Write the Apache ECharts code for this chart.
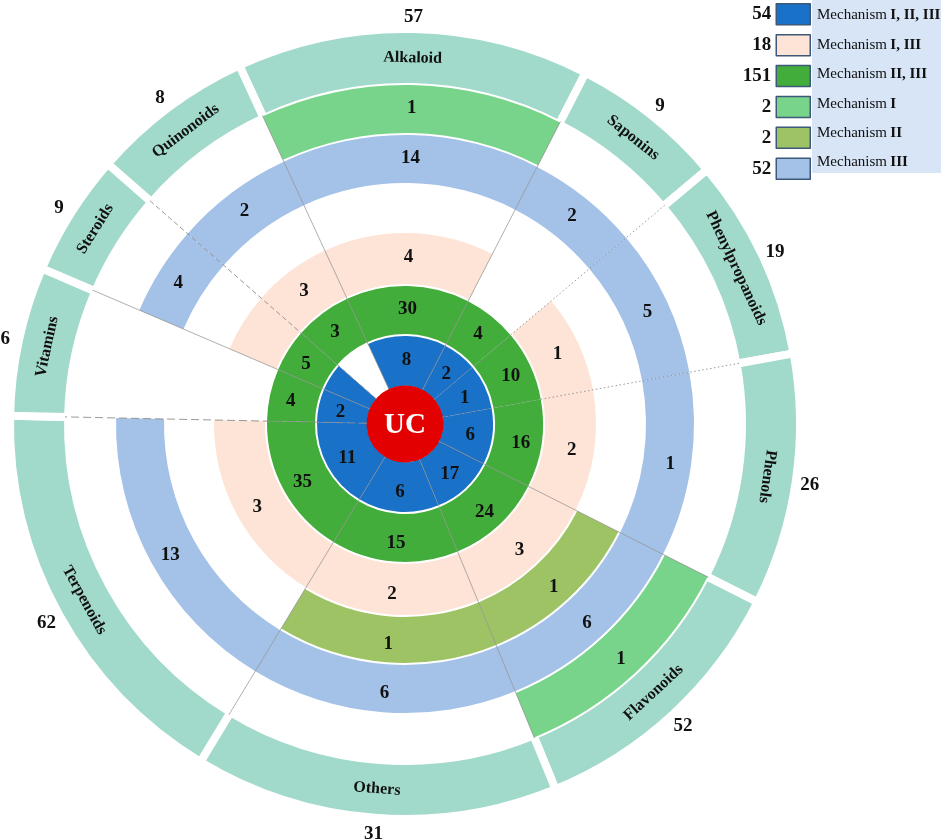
<!DOCTYPE html>
<html><head><meta charset="utf-8">
<script src="https://cdn.jsdelivr.net/npm/echarts@6/dist/echarts.min.js"></script>
<style>html,body{margin:0;padding:0;background:#fff}#chart{width:941px;height:840px}</style>
</head><body><div id="chart"></div>
<script>
// ---------- data ----------
const categories = ['Alkaloid','Saponins','Phenylpropanoids','Phenols','Flavonoids','Others','Terpenoids','Vitamins','Steroids','Quinonoids'];
const categoryTotals = [57, 9, 19, 26, 52, 31, 62, 6, 9, 8];
// angular share of each category sector (degrees, as drawn in the picture)
const categorySpan = [52, 22.7, 29.8, 37.1, 40.8, 53.6, 60, 22, 18, 24];
const firstBoundary = -24.8; // Alkaloid sector starts here (degrees clockwise from 12 o'clock)

const mechNames = ['Mechanism I, II, III','Mechanism I, III','Mechanism II, III','Mechanism I','Mechanism II','Mechanism III'];
const mechTotals = [54, 18, 151, 2, 2, 52];

const mechI_II_III = [8, 2, 1, 6, 17, 6, 11, 2, null, null];
const mechII_III   = [30, 4, 10, 16, 24, 15, 35, 4, 5, 3];
const mechI_III    = [4, null, 1, 2, 3, 2, 3, null, null, 3];
const mechII       = [null, null, null, null, 1, 1, null, null, null, null];
const mechIII      = [14, 2, 5, 1, 6, 6, 13, null, 4, 2];
const mechI        = [1, null, null, null, 1, null, null, null, null, null];
// cells coloured in the picture without a number
const unlabeledFill = {'Mechanism I, II, III': ['Steroids'], 'Mechanism I, III': ['Steroids']};
// style of the radial divider that follows each category
const dividerStyle = ['solid','dotted','dotted','solid','solid','solid','dashed','solid','longdash','solid'];

// ---------- layout / style ----------
const C = [405, 424];
const SERIF = '"Liberation Serif","Times New Roman",serif';
const startAngle = 90 - firstBoundary;
const LABEL_OFFSET = [0, 2];
const ringColor = {
  'Mechanism I, II, III': '#1a71c8',
  'Mechanism I, III': '#fde4d6',
  'Mechanism II, III': '#43ad3b',
  'Mechanism I': '#77d48a',
  'Mechanism II': '#9dc365',
  'Mechanism III': '#a4c1e8'
};
const rings = [
  {name: 'Mechanism I, II, III', values: mechI_II_III, r: [38, 88]},
  {name: 'Mechanism II, III', values: mechII_III, r: [90, 138]},
  {name: 'Mechanism I, III', values: mechI_III, r: [140, 191]},
  {name: 'Mechanism II', values: mechII, r: [193, 239]},
  {name: 'Mechanism III', values: mechIII, r: [241, 289]},
  {name: 'Mechanism I', values: mechI, r: [291, 339]}
];

const cum = [];
categorySpan.reduce((s, v, i) => { cum[i] = s; return s + v; }, firstBoundary);
const midAngle = i => cum[i] + categorySpan[i] / 2;
const endAngle = i => cum[i] + categorySpan[i];
function labelRotation(theta) {
  const t = ((theta % 360) + 360) % 360;
  return (t > 110 && t < 250) ? 180 - t : -t;
}
const base = {type: 'pie', center: C, startAngle: startAngle, clockwise: true, silent: true, animation: false,
  avoidLabelOverlap: false, emphasis: {disabled: true}, labelLine: {show: false}};

function ringSeries(ring) {
  const fills = unlabeledFill[ring.name] || [];
  return Object.assign({}, base, {
    name: ring.name, radius: ring.r,
    itemStyle: {borderWidth: 0},
    label: {show: true, position: 'inside', offset: LABEL_OFFSET, fontFamily: SERIF, fontWeight: 'bold', fontSize: 19, color: '#111'},
    data: categories.map((c, i) => {
      const v = ring.values[i];
      const filled = v != null || fills.includes(c);
      return {name: c, value: categorySpan[i],
        itemStyle: {color: filled ? ringColor[ring.name] : 'rgba(0,0,0,0)'},
        label: {show: v != null, formatter: String(v)}};
    })
  });
}

const series = [];
// category ring (outermost)
series.push(Object.assign({}, base, {
  name: 'categories', radius: [337, 395],
  itemStyle: {color: '#a1d9cb', borderColor: '#ffffff', borderWidth: 8},
  label: {show: false},
  data: categories.map((c, i) => ({name: c, value: categorySpan[i]}))
}));
// category names (drawn on the ring, slightly inside its middle)
series.push(Object.assign({}, base, {
  name: 'categoryNames', radius: [340, 386],
  itemStyle: {color: 'rgba(0,0,0,0)', borderWidth: 0},
  label: {show: true, position: 'inside', formatter: '{b}', fontFamily: SERIF, fontWeight: 'bold', fontSize: 16, color: '#111'},
  data: categories.map((c, i) => ({name: c, value: categorySpan[i], label: {rotate: labelRotation(midAngle(i))}}))
}));
// totals outside
series.push(Object.assign({}, base, {
  name: 'totals', radius: [390, 422],
  itemStyle: {color: 'rgba(0,0,0,0)', borderWidth: 0},
  label: {show: true, position: 'inside', offset: LABEL_OFFSET, fontFamily: SERIF, fontWeight: 'bold', fontSize: 19, color: '#111'},
  data: categories.map((c, i) => ({name: c, value: categorySpan[i], label: {formatter: String(categoryTotals[i])}}))
}));
rings.forEach(r => series.push(ringSeries(r)));
// centre
series.push(Object.assign({}, base, {
  name: 'UC', radius: [0, 38.5],
  itemStyle: {color: '#e30000', borderWidth: 0},
  label: {show: true, position: 'center', offset: LABEL_OFFSET, formatter: 'UC', fontFamily: SERIF, fontWeight: 'bold', fontSize: 29, color: '#fff'},
  data: [{name: 'UC', value: 1}]
}));
// radial dividers
const dash = {solid: 'solid', dotted: [1.5, 2.5], dashed: [8, 4], longdash: [5, 3]};
categories.forEach((c, i) => {
  const a = ((endAngle(i) % 360) + 360) % 360;
  series.push({type: 'line', coordinateSystem: 'polar', silent: true, animation: false, z: 10,
    symbol: 'none', data: [[38, a], [340, a]],
    lineStyle: {color: '#8c8c8c', width: dividerStyle[i] === 'solid' ? 0.7 : 0.9, type: dash[dividerStyle[i]]}});
});

const chart = echarts.init(document.getElementById('chart'), null, {renderer: 'canvas'});
chart.setOption({
  backgroundColor: '#ffffff',
  animation: false,
  polar: {center: C, radius: 391},
  angleAxis: {type: 'value', min: 0, max: 360, startAngle: 90, clockwise: true, show: false},
  radiusAxis: {type: 'value', min: 0, max: 391, show: false},
  legend: [
    {orient: 'vertical', right: 130, top: 3, padding: 0, itemWidth: 34, itemHeight: 21, itemGap: 8.4,
     align: 'right', icon: 'rect', selectedMode: false,
     data: mechNames.map(n => ({name: n, itemStyle: {color: ringColor[n], borderColor: '#3d5878', borderWidth: 1.5}})),
     formatter: n => String(mechTotals[mechNames.indexOf(n)]),
     textStyle: {fontFamily: SERIF, fontWeight: 'bold', fontSize: 19, color: '#111', lineHeight: 21}},
    {orient: 'vertical', left: 812, top: 0, padding: [5, 24, 0, 0], itemWidth: 0, itemHeight: 21, itemGap: 8.4,
     icon: 'rect', selectedMode: false, backgroundColor: '#d8e5f6',
     data: mechNames.map(n => ({name: n, itemStyle: {color: 'rgba(0,0,0,0)', borderWidth: 0}})),
     formatter: n => '{m|Mechanism} {b|' + n.slice(10) + '}',
     textStyle: {color: '#111', rich: {
       m: {fontFamily: SERIF, fontSize: 15, lineHeight: 21, color: '#111'},
       b: {fontFamily: SERIF, fontSize: 15, fontWeight: 'bold', lineHeight: 21, color: '#111'}}}}
  ],
  series: series
});
</script></body></html>
